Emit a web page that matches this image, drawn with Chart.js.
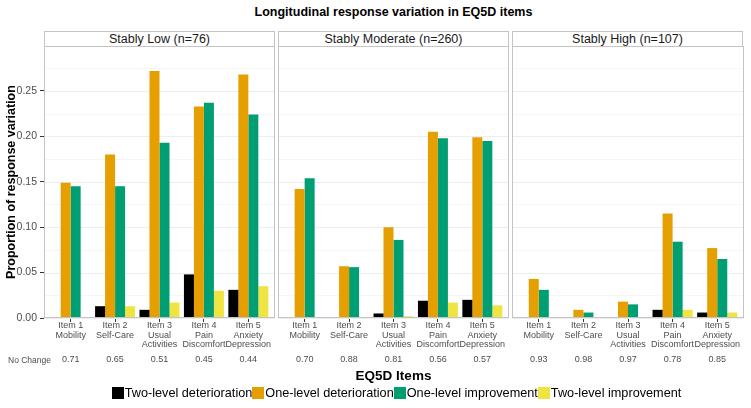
<!DOCTYPE html>
<html>
<head>
<meta charset="utf-8">
<script src="https://cdn.jsdelivr.net/npm/chart.js@4.4.0/dist/chart.umd.min.js"></script>
<style>
body { margin: 0; background: #fff; font-family: "Liberation Sans", Arial, sans-serif; }
#wrap { position: relative; width: 751px; height: 408px; overflow: hidden; }
canvas { position: absolute; top: 46px; }
.strip { position: absolute; top: 31px; height: 15px; width: 231px; box-sizing: border-box;
  border: 1px solid #c4c4c4; border-bottom: none; text-align: center;
  font-size: 12.5px; line-height: 14px; color: #1a1a1a; }
#title { position: absolute; left: 44px; width: 699px; top: 4px; text-align: center;
  font-weight: bold; font-size: 12.5px; line-height: 16px; }
#nochange { position: absolute; left: 8px; top: 354px; font-size: 8.5px; line-height: 12px; color: #4d4d4d; }
#xtitle { position: absolute; left: 44px; width: 699px; top: 368px; text-align: center;
  font-weight: bold; font-size: 13.5px; line-height: 16px; }
#legend { position: absolute; left: 44px; width: 705px; top: 386px; text-align: center;
  font-size: 12.7px; line-height: 14px; white-space: nowrap; }
#legend span.box { display: inline-block; width: 12px; height: 12px; vertical-align: -2px; margin-right: 1px; }
</style>
</head>
<body>
<div id="wrap">
  <div id="title">Longitudinal response variation in EQ5D items</div>
  <div class="strip" style="left:44px">Stably Low (n=76)</div>
  <div class="strip" style="left:278px">Stably Moderate (n=260)</div>
  <div class="strip" style="left:512px">Stably High (n=107)</div>
  <canvas id="panel0" width="275" height="324" style="left:0px"></canvas>
  <canvas id="panel1" width="231" height="324" style="left:278px"></canvas>
  <canvas id="panel2" width="232" height="324" style="left:512px"></canvas>
  <div id="nochange">No Change</div>
  <div id="xtitle">EQ5D Items</div>
  <div id="legend"></div>
</div>
<script>
// data
const groups = ['Stably Low (n=76)', 'Stably Moderate (n=260)', 'Stably High (n=107)'];
const itemLabels = [
  ['Item 1', 'Mobility'],
  ['Item 2', 'Self-Care'],
  ['Item 3', 'Usual', 'Activities'],
  ['Item 4', 'Pain', 'Discomfort'],
  ['Item 5', 'Anxiety', 'Depression']
];
const seriesNames = ['Two-level deterioration', 'One-level deterioration', 'One-level improvement', 'Two-level improvement'];
const seriesColors = ['#000000', '#E69F00', '#009E73', '#F0E442'];

// one row per group: low, moderate, high
const twoLevelDeterioration = [
  [0, 0.013, 0.009, 0.048, 0.031],
  [0, 0.001, 0.005, 0.019, 0.020],
  [0, 0, 0, 0.009, 0.006]
];
const oneLevelDeterioration = [
  [0.149, 0.180, 0.272, 0.233, 0.268],
  [0.142, 0.057, 0.100, 0.205, 0.199],
  [0.043, 0.009, 0.018, 0.115, 0.077]
];
const oneLevelImprovement = [
  [0.145, 0.145, 0.193, 0.237, 0.224],
  [0.154, 0.056, 0.086, 0.198, 0.195],
  [0.031, 0.006, 0.015, 0.084, 0.065]
];
const twoLevelImprovement = [
  [0, 0.013, 0.017, 0.030, 0.035],
  [0, 0.0005, 0.002, 0.017, 0.014],
  [0, 0, 0, 0.009, 0.006]
];
const noChange = [
  [0.71, 0.65, 0.51, 0.45, 0.44],
  [0.70, 0.88, 0.81, 0.56, 0.57],
  [0.93, 0.98, 0.97, 0.78, 0.85]
];
const yTicks = [0, 0.05, 0.10, 0.15, 0.20, 0.25];
const yMax = 0.2995;

Chart.defaults.font.family = '"Liberation Sans", Arial, sans-serif';

// light grid + grey frame like the ggplot panels
const panelFrame = {
  id: 'panelFrame',
  beforeDatasetsDraw(chart) {
    const ctx = chart.ctx, a = chart.chartArea, y = chart.scales.y;
    const step = yTicks[1] - yTicks[0];
    ctx.save();
    ctx.lineWidth = 1;
    yTicks.forEach(v => {
      ctx.strokeStyle = '#f6f6f6';
      let py = Math.round(y.getPixelForValue(v + step / 2)) + 0.5;
      ctx.beginPath(); ctx.moveTo(a.left, py); ctx.lineTo(a.right, py); ctx.stroke();
      ctx.strokeStyle = '#ededed';
      py = Math.round(y.getPixelForValue(v)) + 0.5;
      ctx.beginPath(); ctx.moveTo(a.left, py); ctx.lineTo(a.right, py); ctx.stroke();
    });
    ctx.restore();
  },
  afterDatasetsDraw(chart) {
    const ctx = chart.ctx, a = chart.chartArea;
    ctx.save();
    ctx.strokeStyle = '#c4c4c4';
    ctx.lineWidth = 1;
    ctx.strokeRect(a.left + 0.5, a.top + 0.5, a.width - 1, a.height - 1);
    ctx.restore();
  }
};

const allSeries = [twoLevelDeterioration, oneLevelDeterioration, oneLevelImprovement, twoLevelImprovement];
const itemTicks = s => { s.ticks = itemLabels.map((l, i) => ({ value: i + 1 })); };

function makePanel(p) {
  const ctx = document.getElementById('panel' + p).getContext('2d');
  return new Chart(ctx, {
    type: 'bar',
    data: {
      datasets: allSeries.map((vals, k) => ({
        label: seriesNames[k],
        data: vals[p].map((v, i) => ({ x: i + 1, y: v })),
        backgroundColor: seriesColors[k],
        borderWidth: 0,
        categoryPercentage: 0.9,
        barPercentage: 1.0
      }))
    },
    options: {
      responsive: false,
      animation: false,
      layout: { padding: 0 },
      plugins: { legend: { display: false }, tooltip: { enabled: false }, title: { display: false } },
      scales: {
        x: {
          type: 'linear', min: 0.4, max: 5.6, offset: false, position: 'bottom',
          afterBuildTicks: itemTicks,
          afterFit: s => { s.height = 32; s.paddingLeft = 0; s.paddingRight = 0; },
          grid: { drawOnChartArea: false, drawTicks: true, tickLength: 4, tickColor: '#333333', offset: false },
          border: { display: false },
          ticks: {
            padding: -1, autoSkip: false, maxRotation: 0, color: '#4d4d4d',
            font: { size: 9, lineHeight: 1.04 },
            callback: v => itemLabels[v - 1]
          }
        },
        x2: {
          type: 'linear', min: 0.4, max: 5.6, offset: false, position: 'bottom',
          afterBuildTicks: itemTicks,
          afterFit: s => { s.height = 20; s.paddingLeft = 0; s.paddingRight = 0; },
          grid: { display: false, drawTicks: false },
          border: { display: false },
          ticks: {
            padding: 5, autoSkip: false, maxRotation: 0, color: '#4d4d4d',
            font: { size: 9, lineHeight: 1.04 },
            callback: v => noChange[p][v - 1].toFixed(2)
          }
        },
        y: {
          display: p === 0,
          min: 0, max: yMax,
          afterBuildTicks: s => { s.ticks = yTicks.map(v => ({ value: v })); },
          afterFit: s => { if (p === 0) s.width = 44; s.paddingTop = 0; s.paddingBottom = 0; },
          grid: { drawOnChartArea: false, drawTicks: true, tickLength: 4, tickColor: '#333333' },
          border: { display: false },
          ticks: {
            padding: 3, color: '#4d4d4d', font: { size: 10.5 },
            callback: v => v.toFixed(2)
          },
          title: {
            display: true, text: 'Proportion of response variation', color: '#000000',
            font: { size: 12.5, weight: 'bold' }, padding: { top: 4, bottom: 0 }
          }
        }
      }
    },
    plugins: [panelFrame]
  });
}

const panels = groups.map((g, p) => makePanel(p));

// legend row
const legend = document.getElementById('legend');
seriesNames.forEach((name, k) => {
  const box = document.createElement('span');
  box.className = 'box';
  box.style.background = seriesColors[k];
  legend.appendChild(box);
  legend.appendChild(document.createTextNode(name));
});
</script>
</body>
</html>
